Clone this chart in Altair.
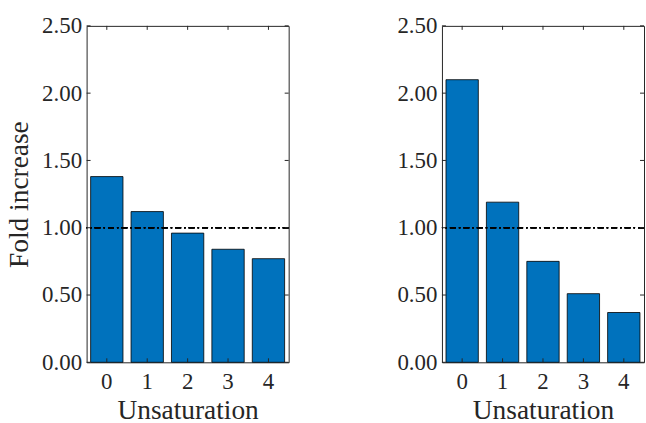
import altair as alt
import pandas as pd

categories = [0, 1, 2, 3, 4]
left_values = [1.38, 1.12, 0.96, 0.84, 0.77]
right_values = [2.10, 1.19, 0.75, 0.51, 0.37]
y_ticks = [0.0, 0.5, 1.0, 1.5, 2.0, 2.5]
reference_level = 1.0

W, H = 203, 338
FONT = "Liberation Serif"
TXT = "#262626"
BAR = "#0072BD"


def panel(values, show_title):
    df = pd.DataFrame({"u": [str(c) for c in categories], "v": values})
    tdf = pd.DataFrame({"t": y_ticks})
    xs = alt.Scale(paddingInner=0.2, paddingOuter=0.1)
    ys = alt.Scale(domain=[0, 2.5], nice=False, zero=True)
    xaxis = alt.Axis(title="Unsaturation", labelAngle=0, ticks=False, domain=False,
                     labelPadding=8, titlePadding=3)
    yaxis = alt.Axis(title="Fold increase" if show_title else None, values=y_ticks,
                     format=".2f", ticks=False, domain=False, labelPadding=5,
                     titlePadding=8, grid=False)
    bars = alt.Chart(df).mark_bar(color=BAR, stroke="black", strokeWidth=0.8).encode(
        x=alt.X("u:O", scale=xs, axis=xaxis, sort=None),
        y=alt.Y("v:Q", scale=ys, axis=yaxis),
    )
    ref = alt.Chart(df).mark_rule(color="black", strokeWidth=1.5,
                                  strokeDash=[6, 3, 1.5, 3]).encode(
        y=alt.datum(reference_level, type="quantitative", scale=ys)
    )
    ytl = alt.Chart(tdf).mark_rule(color=TXT, strokeWidth=1).encode(
        y=alt.Y("t:Q", scale=ys), x=alt.value(0), x2=alt.value(4))
    ytr = alt.Chart(tdf).mark_rule(color=TXT, strokeWidth=1).encode(
        y=alt.Y("t:Q", scale=ys), x=alt.value(W - 4), x2=alt.value(W))
    xtb = alt.Chart(df).mark_rule(color=TXT, strokeWidth=1).encode(
        x=alt.X("u:O", scale=xs, sort=None), y=alt.value(H - 4), y2=alt.value(H))
    xtt = alt.Chart(df).mark_rule(color=TXT, strokeWidth=1).encode(
        x=alt.X("u:O", scale=xs, sort=None), y=alt.value(0), y2=alt.value(4))
    return alt.layer(bars, ref, ytl, ytr, xtb, xtt).properties(width=W, height=H)


chart = alt.hconcat(
    panel(left_values, True), panel(right_values, False), spacing=154, bounds="flush"
).properties(
    padding={"left": 5, "top": 13, "right": 0, "bottom": 0}
).configure_view(
    stroke=TXT, strokeWidth=1
).configure_axis(
    labelFont=FONT, titleFont=FONT, labelFontSize=23, titleFontSize=27.5,
    labelColor=TXT, titleColor=TXT, titleFontWeight="normal", labelFlush=False,
    labelOverlap=False
)

chart.save("out.html", embed_options={"renderer": "svg", "actions": False})
